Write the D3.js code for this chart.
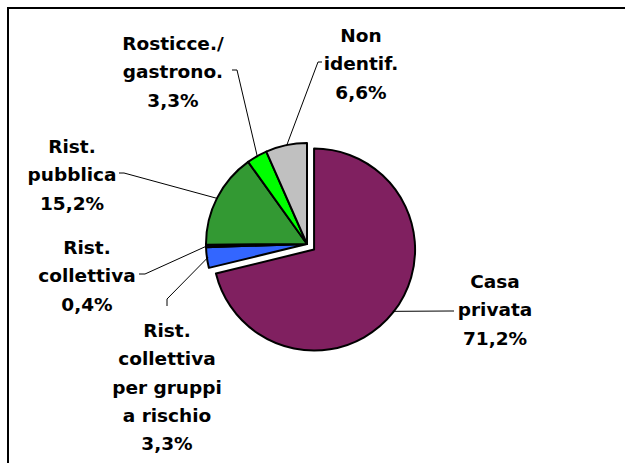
<!DOCTYPE html>
<html>
<head>
<meta charset="utf-8">
<script src="https://cdn.jsdelivr.net/npm/d3@7"></script>
<style>
  html, body { margin: 0; padding: 0; background: #fff; }
  svg { display: block; }
  .lbl { font-family: "DejaVu Sans", sans-serif; font-weight: bold; font-size: 18.5px; fill: #000; }
</style>
</head>
<body>
<svg id="chart" width="625" height="463"></svg>
<script>
// Luogo di consumo: quote percentuali
const categories = ["Casa privata", "Rist. collettiva per gruppi a rischio", "Rist. collettiva",
                    "Rist. pubblica", "Rosticce./gastrono.", "Non identif."];
const values = [71.2, 3.3, 0.4, 15.2, 3.3, 6.6];
const labelLines = [["Casa", "privata"], ["Rist.", "collettiva", "per gruppi", "a rischio"],
                    ["Rist.", "collettiva"], ["Rist.", "pubblica"], ["Rosticce./", "gastrono."],
                    ["Non", "identif."]];
const colors = ["#802060", "#3366FF", "#000080", "#339933", "#00FF00", "#C0C0C0"];

// Layout
const cx = 307, cy = 244, radius = 101;
const explode = [9, 0, 0, 0, 0, 0];
const lineH = 28.3;
// label block: centre x, first baseline, leader elbow and tick end
const labelLayout = [
  { x: 495, y: 288, elbow: [450, 311], tick: [454, 311] },
  { x: 167, y: 337, elbow: [167, 299], tick: [167, 306] },
  { x: 87,  y: 254, elbow: [145, 274], tick: [139, 274] },
  { x: 72,  y: 153, elbow: [124, 173], tick: [119, 173] },
  { x: 173, y: 50,  elbow: [237, 70],  tick: [232, 70] },
  { x: 361, y: 42,  elbow: [318, 62],  tick: [322, 62] }
];

const fmt = v => d3.format(".1f")(v).replace(".", ",") + "%";

const svg = d3.select("#chart");

// frame
svg.append("path")
  .attr("d", "M8,463V8H625")
  .attr("fill", "none")
  .attr("stroke", "#000")
  .attr("stroke-width", 2);

const pie = d3.pie().sort(null).value(d => d);
const arcs = pie(values);
const arc = d3.arc().innerRadius(0).outerRadius(radius);

const mid = d => (d.startAngle + d.endAngle) / 2;
const offset = (d, i) => [Math.sin(mid(d)) * explode[i], -Math.cos(mid(d)) * explode[i]];

const g = svg.append("g").attr("transform", `translate(${cx},${cy})`);

g.selectAll("path.slice")
  .data(arcs)
  .join("path")
  .attr("class", "slice")
  .attr("d", arc)
  .attr("transform", (d, i) => `translate(${offset(d, i)})`)
  .attr("fill", (d, i) => colors[i])
  .attr("stroke", "#000")
  .attr("stroke-width", 2)
  .attr("stroke-linejoin", "round");

// leader lines
arcs.forEach((d, i) => {
  const [ox, oy] = offset(d, i);
  const a = mid(d);
  const px = cx + ox + Math.sin(a) * (radius - 1);
  const py = cy + oy - Math.cos(a) * (radius - 1);
  const L = labelLayout[i];
  svg.append("polyline")
    .attr("points", [[px, py], L.elbow, L.tick].map(p => p.join(",")).join(" "))
    .attr("fill", "none")
    .attr("stroke", "#000")
    .attr("stroke-width", 1);
});

// labels
arcs.forEach((d, i) => {
  const L = labelLayout[i];
  const lines = labelLines[i].concat([fmt(values[i])]);
  const t = svg.append("text")
    .attr("class", "lbl")
    .attr("text-anchor", "middle");
  lines.forEach((s, k) => {
    t.append("tspan").attr("x", L.x).attr("y", L.y + k * lineH).text(s);
  });
});
</script>
</body>
</html>
